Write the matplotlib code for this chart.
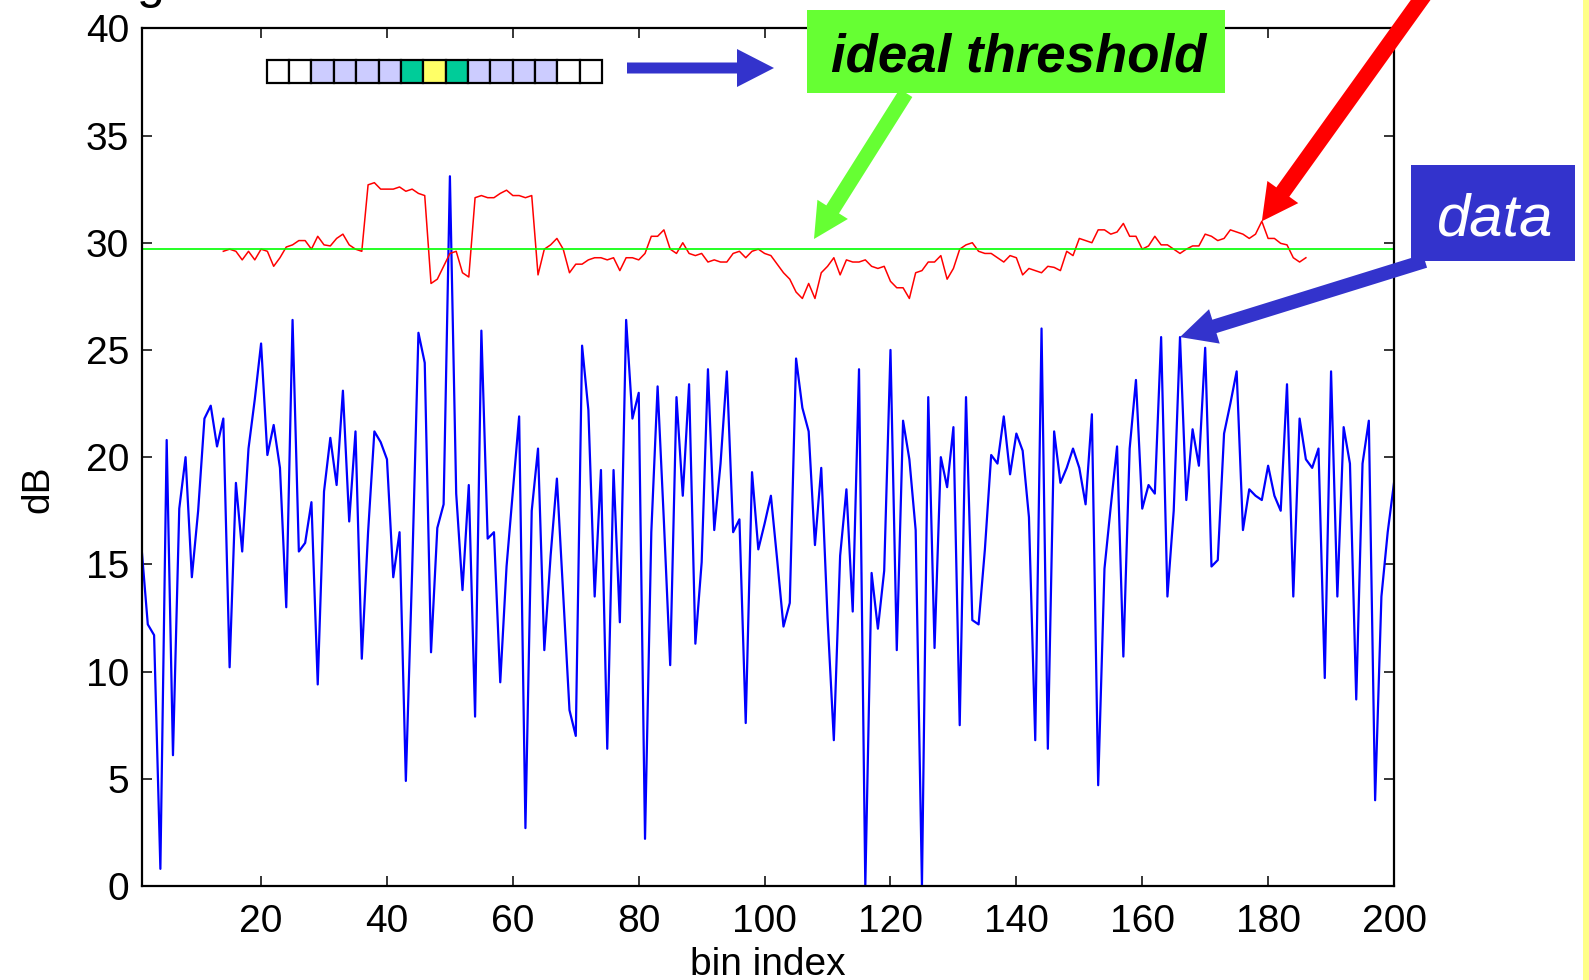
import matplotlib
matplotlib.use("Agg")
import matplotlib.pyplot as plt
from matplotlib.patches import Rectangle, FancyArrow
import numpy as np

plt.rcParams["font.family"] = ["Liberation Sans", "DejaVu Sans"]

# received power per range bin (dB)
data_db = [
    15.8, 12.2, 11.7, 0.8, 20.8, 6.1, 17.6, 20.0, 14.4, 17.5,
    21.8, 22.4, 20.5, 21.8, 10.2, 18.8, 15.6, 20.4, 22.7, 25.3,
    20.1, 21.5, 19.5, 13.0, 26.4, 15.6, 16.0, 17.9, 9.4, 18.4,
    20.9, 18.7, 23.1, 17.0, 21.2, 10.6, 16.5, 21.2, 20.7, 19.9,
    14.4, 16.5, 4.9, 14.7, 25.8, 24.4, 10.9, 16.7, 17.8, 33.1,
    18.3, 13.8, 18.7, 7.9, 25.9, 16.2, 16.5, 9.5, 14.9, 18.4,
    21.9, 2.7, 17.5, 20.4, 11.0, 15.4, 19.0, 13.6, 8.2, 7.0,
    25.2, 22.2, 13.5, 19.4, 6.4, 19.4, 12.3, 26.4, 21.8, 23.0,
    2.2, 16.5, 23.3, 17.0, 10.3, 22.8, 18.2, 23.4, 11.3, 15.1,
    24.1, 16.6, 19.7, 24.0, 16.5, 17.1, 7.6, 19.3, 15.7, 16.9,
    18.2, 15.2, 12.1, 13.2, 24.6, 22.3, 21.2, 15.9, 19.5, 12.5,
    6.8, 15.4, 18.5, 12.8, 24.1, 0.0, 14.6, 12.0, 14.7, 25.0,
    11.0, 21.7, 19.9, 16.6, 0.0, 22.8, 11.1, 20.0, 18.6, 21.4,
    7.5, 22.8, 12.4, 12.2, 15.7, 20.1, 19.7, 21.9, 19.2, 21.1,
    20.3, 17.2, 6.8, 26.0, 6.4, 21.2, 18.8, 19.5, 20.4, 19.5,
    17.8, 22.0, 4.7, 14.8, 17.7, 20.5, 10.7, 20.4, 23.6, 17.6,
    18.7, 18.3, 25.6, 13.5, 17.5, 25.6, 18.0, 21.3, 19.6, 25.1,
    14.9, 15.2, 21.1, 22.5, 24.0, 16.6, 18.5, 18.2, 18.0, 19.6,
    18.2, 17.5, 23.4, 13.5, 21.8, 19.9, 19.5, 20.4, 9.7, 24.0,
    13.5, 21.4, 19.7, 8.7, 19.7, 21.7, 4.0, 13.5, 16.5, 18.8,
]
bins = np.arange(1, len(data_db) + 1)

# adaptive (CFAR) threshold, defined from bin 14 to bin 186
cfar_first_bin = 14
cfar_db = [
    29.6, 29.7, 29.6, 29.2, 29.6, 29.2, 29.7, 29.6, 28.9, 29.3,
    29.8, 29.9, 30.1, 30.1, 29.7, 30.3, 29.9, 29.85, 30.2, 30.4,
    29.9, 29.7, 29.6, 32.7, 32.8, 32.5, 32.5, 32.5, 32.6, 32.4,
    32.5, 32.3, 32.2, 28.1, 28.3, 28.9, 29.5, 29.6, 28.6, 28.4,
    32.1, 32.2, 32.1, 32.1, 32.3, 32.45, 32.2, 32.2, 32.1, 32.2,
    28.5, 29.7, 29.9, 30.2, 29.7, 28.6, 29.0, 29.0, 29.2, 29.3,
    29.3, 29.2, 29.3, 28.7, 29.3, 29.3, 29.2, 29.5, 30.3, 30.3,
    30.6, 29.7, 29.5, 30.0, 29.5, 29.4, 29.5, 29.1, 29.2, 29.1,
    29.1, 29.5, 29.6, 29.3, 29.6, 29.7, 29.5, 29.4, 29.0, 28.6,
    28.3, 27.7, 27.4, 28.1, 27.4, 28.6, 28.9, 29.3, 28.5, 29.2,
    29.1, 29.1, 29.2, 28.9, 28.8, 28.9, 28.2, 27.9, 27.9, 27.4,
    28.6, 28.7, 29.1, 29.1, 29.4, 28.3, 28.8, 29.7, 29.9, 30.0,
    29.6, 29.5, 29.5, 29.3, 29.1, 29.4, 29.3, 28.5, 28.8, 28.7,
    28.6, 28.9, 28.85, 28.7, 29.6, 29.4, 30.2, 30.1, 30.0, 30.6,
    30.6, 30.4, 30.5, 30.9, 30.3, 30.3, 29.7, 29.85, 30.3, 29.9,
    29.9, 29.7, 29.5, 29.7, 29.85, 29.85, 30.4, 30.3, 30.1, 30.2,
    30.6, 30.5, 30.4, 30.2, 30.4, 31.0, 30.2, 30.2, 29.97, 29.9,
    29.3, 29.1, 29.3,
]
cfar_bins = np.arange(cfar_first_bin, cfar_first_bin + len(cfar_db))

ideal_db = 29.7

# sliding window: guard cells, training cells, cell under test
window_colors = (["white"] * 2 + ["#ccccff"] * 4
                 + ["#00cc99", "#ffff66", "#00cc99"]
                 + ["#ccccff"] * 4 + ["white"] * 2)

W, H = 1589, 980
fig = plt.figure(figsize=(W / 100, H / 100), dpi=100)
ax = fig.add_axes([141.5 / W, 1 - 886 / H, (1394 - 141.5) / W, (886 - 28.3) / H])

ax.plot(bins, data_db, color="#0000ff", lw=1.6)
ax.plot(cfar_bins, cfar_db, color="#ff0000", lw=1.1)
ax.axhline(ideal_db, color="#00ff00", lw=1.2)

ax.set_xlim(1, 200)
ax.set_ylim(0, 40)
ax.set_xticks(range(20, 201, 20))
ax.set_yticks(range(0, 41, 5))
ax.tick_params(direction="in", length=7, width=1.1, labelsize=28,
               top=True, right=True, pad=9)
ax.tick_params(axis="x", pad=13)
for s in ax.spines.values():
    s.set_linewidth(1.6)
ax.set_xlabel("bin index", fontsize=28, labelpad=5)
ax.set_ylabel("dB", fontsize=28, labelpad=21)
ax.yaxis.label.set_y(0.462)

# overlay in pixel units for the callouts
ov = fig.add_axes([0, 0, 1, 1], zorder=5)
ov.set_xlim(0, W)
ov.set_ylim(H, 0)
ov.axis("off")


def to_px(x, y):
    return ov.transData.inverted().transform(ax.transData.transform((x, y)))


def arrow(tail, tip, width, head_w, head_l, color):
    ov.add_patch(FancyArrow(tail[0], tail[1], tip[0] - tail[0], tip[1] - tail[1],
                            width=width, head_width=head_w, head_length=head_l,
                            length_includes_head=True, color=color, lw=0))


# window cells
cell = 22.36
for i, c in enumerate(window_colors):
    ov.add_patch(Rectangle((266.7 + i * cell, 60), cell, 22.7,
                           facecolor=c, edgecolor="black", lw=1.6))
arrow((627, 68), (774, 68), 11, 38, 37, "#3333cc")

# ideal threshold callout
ov.add_patch(Rectangle((806.7, 10), 418.3, 83.3, facecolor="#66ff33", edgecolor="none"))
ov.text(1019, 71.7, "ideal threshold", fontsize=38, fontweight="bold",
        fontstyle="italic", ha="center", va="baseline", color="black")
arrow((906, 93), (814, 239), 15, 36, 35, "#66ff33")

# adaptive threshold arrow (label sits above the figure)
red_tip = to_px(179, cfar_db[179 - cfar_first_bin])
arrow((1435, -20), red_tip, 16, 38, 36, "#ff0000")

# data callout
data_tip = to_px(166, data_db[166 - 1])
arrow((1425, 261), data_tip, 14, 36, 36, "#3333cc")
ov.add_patch(Rectangle((1411, 165), 164, 95.7, facecolor="#3333cc", edgecolor="none",
                       zorder=6))
ov.text(1495, 235, "data", fontsize=43, fontstyle="italic", ha="center",
        va="baseline", color="white", zorder=7)

# descender of the heading above the plot
ov.text(137, -2, "g", fontsize=36, ha="left", va="baseline", color="black")

# slide border strip on the right edge
ov.add_patch(Rectangle((1583, 0), 6, H, facecolor="#ffff88", edgecolor="none"))

fig.savefig("out.png", dpi=100)
